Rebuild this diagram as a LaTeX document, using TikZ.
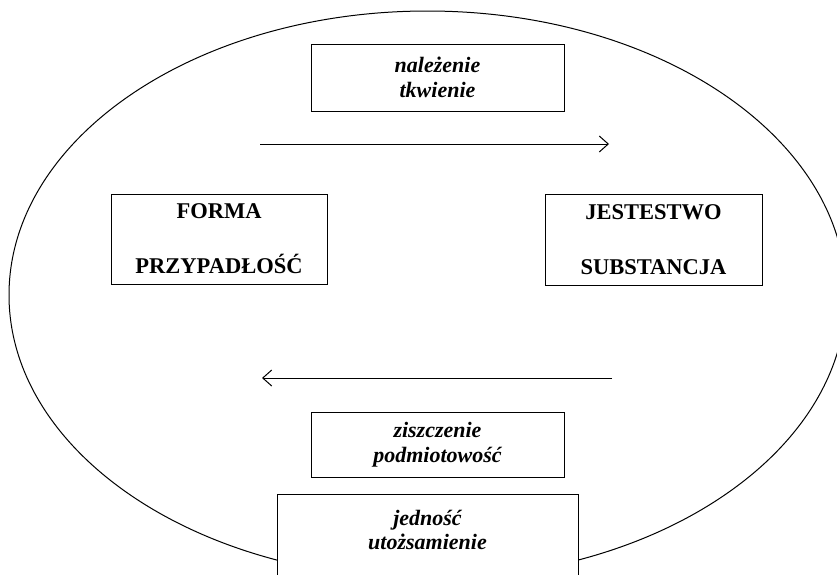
\documentclass[tikz,border=0pt]{standalone}
\usepackage{fontspec}
\setmainfont{Liberation Serif}
\usetikzlibrary{arrows.meta,shapes.geometric}
\begin{document}
\begin{tikzpicture}[x=1pt,y=-1pt,
  box/.style={draw, line width=0.9pt, fill=white, inner sep=0pt},
  bt/.style={font=\fontsize{22.5}{55}\selectfont\bfseries, align=center},
  it/.style={font=\fontsize{22}{24.5}\selectfont\bfseries\itshape, align=center},
  arr/.style={line width=1pt, -{Straight Barb[length=9pt,width=16pt]}}]
\useasboundingbox (0,0) rectangle (837,574);
\clip (0,0) rectangle (837,574);
\node[draw, line width=1pt, ellipse, inner sep=0pt, minimum width=837pt, minimum height=568pt] (oval) at (427.5,295) {};
\node[box, it, minimum width=253pt, minimum height=67pt] (top) at (437.5,77.5) {należenie\\tkwienie};
\node[box, bt, minimum width=216pt, minimum height=90pt] (forma) at (219,239) {FORMA\\PRZYPADŁOŚĆ};
\node[box, bt, minimum width=217pt, minimum height=91pt] (jest) at (653.5,239.5) {JESTESTWO\\SUBSTANCJA};
\node[box, it, minimum width=253pt, minimum height=65pt] (zisz) at (437.5,444.5) {ziszczenie\\podmiotowość};
\node[box, minimum width=301pt, minimum height=100pt, anchor=north] (jed) at (427.5,494) {};
\node[it] (jedt) at (427.5,530) {jedność\\utożsamienie};
\coordinate (r1) at (260,144);
\coordinate (r2) at (609,144);
\coordinate (l1) at (612,378);
\coordinate (l2) at (262,378);
\draw[arr] (r1) -- (r2);
\draw[arr] (l1) -- (l2);
\end{tikzpicture}
\end{document}
